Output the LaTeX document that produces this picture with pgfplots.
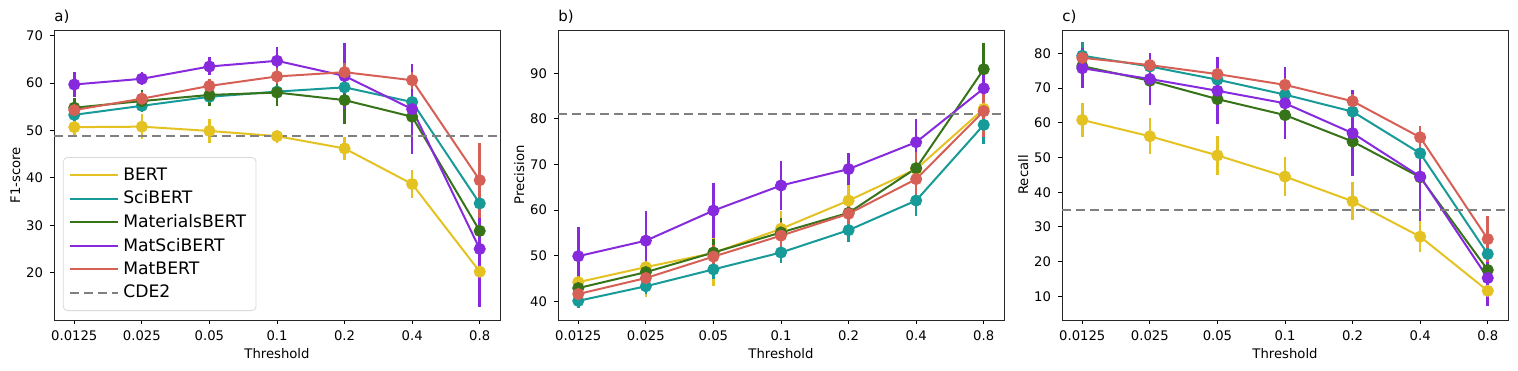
\documentclass[border=0pt]{standalone}
\usepackage{pgfplots}
\pgfplotsset{compat=1.18}
\usepackage{fontspec}
\setmainfont{DejaVu Sans}
\setsansfont{DejaVu Sans}

\definecolor{cbert}{RGB}{228,194,34}
\definecolor{csci}{RGB}{22,155,152}
\definecolor{cmat}{RGB}{55,115,25}
\definecolor{cmatsci}{RGB}{135,42,222}
\definecolor{cmatb}{RGB}{215,96,86}
\definecolor{cdegray}{RGB}{128,128,128}

\newcommand{\TickFont}{\fontsize{6.6}{8}\selectfont}
\newcommand{\LegFont}{\fontsize{8.6}{10}\selectfont}

\pgfplotsset{
  panel/.style={
    scale only axis, width=223pt, height=145pt,
    xmin=-0.3, xmax=6.3,
    xtick={0,1,2,3,4,5,6},
    xticklabels={0.0125,0.025,0.05,0.1,0.2,0.4,0.8},
    xlabel={Threshold},
    tick pos=left, tick align=outside,
    major tick length=2pt,
    tick style={black, line width=0.5pt},
    axis line style={line width=0.5pt, black!85},
    ticklabel style={font=\TickFont},
    label style={font=\TickFont},
    /pgf/number format/assume math mode=true,
    xlabel style={yshift=3pt},
    ylabel style={yshift=-4pt},
    title style={font=\fontsize{7.5}{9}\selectfont, at={(0,1)}, anchor=south west, inner sep=1pt, xshift=-1pt, yshift=-4pt},
    legend image code/.code={\path (0pt,0pt) -- (24pt,0pt);\draw[#1, mark=none] (0pt,0pt) -- (18pt,0pt);},
    clip=false,
  },
  ser/.style={color=#1, line width=1pt, mark=*, mark size=2.5pt,
    mark options={solid, fill=#1, draw=#1},
    error bars/.cd, y dir=both, y explicit, error mark=none,
    error bar style={line width=1.3pt, color=#1}},
  cdeline/.style={color=cdegray, line width=1pt, dash pattern=on 4.5pt off 2.5pt, mark=none},
}

\begin{document}
\begin{tikzpicture}
\useasboundingbox (0,0) rectangle (759pt,185pt);

% ---- a) F1-score
\begin{axis}[panel, at={(27pt,25pt)}, anchor=south west,
  ymin=10, ymax=71.2, ytick={20,30,40,50,60,70},
  ylabel={F1-score}, title={a)},
  legend style={at={(0.02,0.031)}, anchor=south west, font=\LegFont,
    draw=black!15, rounded corners=2pt, row sep=-0.2pt, inner sep=3pt},
  legend cell align=left]
\addplot+[ser=cbert] coordinates {
 (0,50.7) +- (0,1.8) (1,50.8) +- (0,2.6) (2,49.9) +- (0,2.6) (3,48.8) +- (0,1.4)
 (4,46.2) +- (0,2.5) (5,38.7) +- (0,2.9) (6,20.2) +- (0,2.0)};
\addplot+[ser=csci] coordinates {
 (0,53.3) +- (0,1.2) (1,55.2) +- (0,1.2) (2,57.1) +- (0,1.2) (3,58.2) +- (0,1.3)
 (4,59.1) +- (0,1.2) (5,56.0) +- (0,1.5) (6,34.6) +- (0,2.0)};
\addplot+[ser=cmat] coordinates {
 (0,54.8) +- (0,2.0) (1,56.2) +- (0,2.4) (2,57.5) +- (0,2.4) (3,58.0) +- (0,2.9)
 (4,56.4) +- (0,5.0) (5,52.9) +- (0,1.5) (6,28.8) +- (0,2.5)};
\addplot+[ser=cmatsci] coordinates {
 (0,59.7) +- (0,2.7) (1,60.9) +- (0,1.4) (2,63.5) +- (0,1.9) (3,64.7) +- (0,3.0)
 (4,61.5) +- (0,6.9) (5,54.5) +- (0,9.5) (6,25.0) +- (0,12.2)};
\addplot+[ser=cmatb] coordinates {
 (0,54.3) +- (0,1.4) (1,56.7) +- (0,1.4) (2,59.4) +- (0,1.5) (3,61.4) +- (0,1.7)
 (4,62.3) +- (0,2.0) (5,60.6) +- (0,1.8) (6,39.5) +- (0,7.9)};
\addplot[cdeline] coordinates {(-0.3,48.8) (6.3,48.8)};
\legend{BERT,SciBERT,MaterialsBERT,MatSciBERT,MatBERT,CDE2}
\end{axis}

% ---- b) Precision
\begin{axis}[panel, at={(279pt,25pt)}, anchor=south west,
  ymin=35.9, ymax=99.5, ytick={40,50,60,70,80,90},
  ylabel={Precision}, title={b)}]
\addplot+[ser=cbert] coordinates {
 (0,44.2) +- (0,5.0) (1,47.5) +- (0,6.6) (2,50.6) +- (0,7.2) (3,55.9) +- (0,4.0)
 (4,62.1) +- (0,3.5) (5,69.0) +- (0,3.0) (6,82.2) +- (0,4.0)};
\addplot+[ser=csci] coordinates {
 (0,40.1) +- (0,1.5) (1,43.3) +- (0,1.8) (2,47.0) +- (0,2.2) (3,50.7) +- (0,2.4)
 (4,55.6) +- (0,2.7) (5,62.1) +- (0,3.3) (6,78.7) +- (0,4.1)};
\addplot+[ser=cmat] coordinates {
 (0,42.9) +- (0,1.5) (1,46.4) +- (0,1.8) (2,50.7) +- (0,3.0) (3,55.1) +- (0,3.2)
 (4,59.4) +- (0,2.5) (5,69.2) +- (0,2.5) (6,90.9) +- (0,5.7)};
\addplot+[ser=cmatsci] coordinates {
 (0,49.9) +- (0,6.5) (1,53.3) +- (0,6.4) (2,59.9) +- (0,6.1) (3,65.4) +- (0,5.3)
 (4,69.0) +- (0,3.5) (5,74.9) +- (0,5.1) (6,86.7) +- (0,4.5)};
\addplot+[ser=cmatb] coordinates {
 (0,41.6) +- (0,1.5) (1,45.1) +- (0,2.0) (2,49.8) +- (0,2.5) (3,54.4) +- (0,3.0)
 (4,59.2) +- (0,3.5) (5,66.8) +- (0,5.9) (6,81.7) +- (0,5.7)};
\addplot[cdeline] coordinates {(-0.3,81.1) (6.3,81.1)};
\end{axis}

% ---- c) Recall
\begin{axis}[panel, at={(531pt,25pt)}, anchor=south west,
  ymin=3.2, ymax=86.7, ytick={10,20,30,40,50,60,70,80},
  ylabel={Recall}, title={c)}]
\addplot+[ser=cbert] coordinates {
 (0,60.8) +- (0,4.8) (1,56.1) +- (0,5.2) (2,50.6) +- (0,5.7) (3,44.5) +- (0,5.5)
 (4,37.4) +- (0,5.5) (5,27.2) +- (0,4.4) (6,11.6) +- (0,2.5)};
\addplot+[ser=csci] coordinates {
 (0,79.3) +- (0,3.9) (1,76.2) +- (0,1.5) (2,72.4) +- (0,1.8) (3,68.1) +- (0,2.0)
 (4,63.2) +- (0,2.0) (5,51.2) +- (0,2.5) (6,22.2) +- (0,2.5)};
\addplot+[ser=cmat] coordinates {
 (0,76.3) +- (0,2.0) (1,72.1) +- (0,2.5) (2,66.8) +- (0,3.0) (3,62.2) +- (0,4.0)
 (4,54.6) +- (0,5.0) (5,44.3) +- (0,5.0) (6,17.6) +- (0,3.0)};
\addplot+[ser=cmatsci] coordinates {
 (0,75.7) +- (0,5.7) (1,72.6) +- (0,7.5) (2,69.2) +- (0,9.6) (3,65.6) +- (0,10.4)
 (4,57.0) +- (0,12.3) (5,44.5) +- (0,12.7) (6,15.3) +- (0,8.2)};
\addplot+[ser=cmatb] coordinates {
 (0,78.7) +- (0,1.5) (1,76.6) +- (0,1.5) (2,74.0) +- (0,1.8) (3,70.9) +- (0,2.0)
 (4,66.2) +- (0,2.0) (5,55.8) +- (0,3.2) (6,26.5) +- (0,6.7)};
\addplot[cdeline] coordinates {(-0.3,35.0) (6.3,35.0)};
\end{axis}
\end{tikzpicture}
\end{document}
